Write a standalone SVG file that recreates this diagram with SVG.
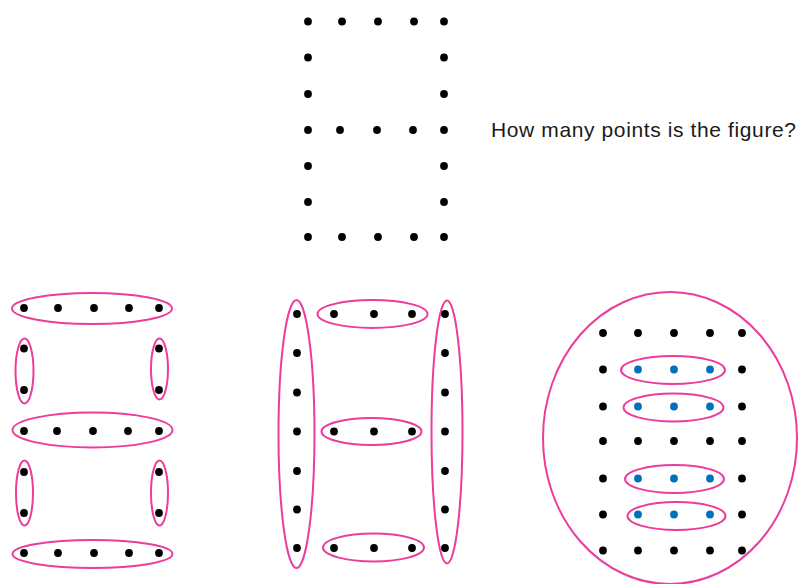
<svg xmlns="http://www.w3.org/2000/svg" width="799" height="584" viewBox="0 0 799 584">
<defs>
<style>
.d{fill:#000}
.b{fill:#0070C0}
.e{fill:none;stroke:#EC3C9C;stroke-width:2}
.t{font-family:"Liberation Sans",Arial,sans-serif;font-size:21px;fill:#1a1a1a}
</style>
<circle id="k" r="3.9" class="d"/>
<circle id="u" r="3.9" class="b"/>
</defs>
<rect width="799" height="584" fill="#fff"/>

<g id="top-figure">
<use href="#k" x="308" y="21.5"/><use href="#k" x="342" y="21.5"/><use href="#k" x="378" y="21.5"/><use href="#k" x="414" y="21.5"/><use href="#k" x="444" y="21.5"/>
<use href="#k" x="308" y="57.5"/><use href="#k" x="444" y="57.5"/>
<use href="#k" x="308" y="94"/><use href="#k" x="444" y="94"/>
<use href="#k" x="308" y="130"/><use href="#k" x="340" y="130"/><use href="#k" x="377" y="130"/><use href="#k" x="413" y="130"/><use href="#k" x="444" y="130"/>
<use href="#k" x="308" y="166"/><use href="#k" x="444" y="166"/>
<use href="#k" x="308" y="202"/><use href="#k" x="444" y="202"/>
<use href="#k" x="308" y="237"/><use href="#k" x="342" y="237"/><use href="#k" x="378" y="237"/><use href="#k" x="414" y="237"/><use href="#k" x="444" y="237"/>
</g>

<g id="question">
<text class="t" x="491" y="137" textLength="305" lengthAdjust="spacing">How many points is the figure?</text>
</g>

<g id="left-figure">
<ellipse class="e" cx="92" cy="308.5" rx="80" ry="15.5"/>
<ellipse class="e" cx="24.5" cy="371" rx="9" ry="32.5"/>
<ellipse class="e" cx="159.5" cy="369" rx="8.5" ry="30.5"/>
<ellipse class="e" cx="92.5" cy="430" rx="80" ry="17.5"/>
<ellipse class="e" cx="24.5" cy="493" rx="8.5" ry="32.5"/>
<ellipse class="e" cx="159.5" cy="493" rx="8.5" ry="32.5"/>
<ellipse class="e" cx="92.5" cy="554" rx="80" ry="14"/>
<use href="#k" x="24" y="308"/><use href="#k" x="58" y="308"/><use href="#k" x="94" y="308"/><use href="#k" x="129" y="308"/><use href="#k" x="159" y="308"/>
<use href="#k" x="24" y="348.5"/><use href="#k" x="159" y="348.5"/>
<use href="#k" x="24" y="390"/><use href="#k" x="159" y="390"/>
<use href="#k" x="24" y="431"/><use href="#k" x="57" y="431"/><use href="#k" x="93" y="431"/><use href="#k" x="128" y="431"/><use href="#k" x="159" y="431"/>
<use href="#k" x="24" y="472"/><use href="#k" x="159" y="472"/>
<use href="#k" x="24" y="513"/><use href="#k" x="159" y="513"/>
<use href="#k" x="24" y="553"/><use href="#k" x="58" y="553"/><use href="#k" x="94" y="553"/><use href="#k" x="129" y="553"/><use href="#k" x="159" y="553"/>
</g>

<g id="middle-figure">
<ellipse class="e" cx="296.5" cy="434" rx="18" ry="134"/>
<ellipse class="e" cx="447" cy="432" rx="15.5" ry="131.5"/>
<ellipse class="e" cx="372.5" cy="314" rx="55" ry="14"/>
<ellipse class="e" cx="371.5" cy="431.5" rx="50" ry="13.5"/>
<ellipse class="e" cx="373.5" cy="547.5" rx="50.5" ry="14"/>
<use href="#k" x="297" y="314"/><use href="#k" x="297" y="353"/><use href="#k" x="297" y="392.5"/><use href="#k" x="297" y="431.5"/><use href="#k" x="297" y="471"/><use href="#k" x="297" y="509.5"/><use href="#k" x="297" y="548"/>
<use href="#k" x="445" y="314"/><use href="#k" x="445" y="353"/><use href="#k" x="445" y="392.5"/><use href="#k" x="445" y="431.5"/><use href="#k" x="445" y="471"/><use href="#k" x="445" y="509.5"/><use href="#k" x="445" y="548"/>
<use href="#k" x="334" y="314"/><use href="#k" x="374" y="314"/><use href="#k" x="412" y="314"/>
<use href="#k" x="334" y="431.5"/><use href="#k" x="374" y="431.5"/><use href="#k" x="412" y="431.5"/>
<use href="#k" x="334" y="548"/><use href="#k" x="374" y="548"/><use href="#k" x="412" y="548"/>
</g>

<g id="right-figure">
<ellipse class="e" cx="670" cy="438" rx="127" ry="146"/>
<ellipse class="e" cx="673" cy="370" rx="52" ry="14"/>
<ellipse class="e" cx="673.5" cy="407.5" rx="50" ry="14"/>
<ellipse class="e" cx="674.5" cy="479" rx="49.5" ry="14"/>
<ellipse class="e" cx="676.5" cy="516" rx="49" ry="14"/>
<use href="#k" x="603" y="333"/><use href="#k" x="638" y="333"/><use href="#k" x="674" y="333"/><use href="#k" x="710" y="333"/><use href="#k" x="742" y="333"/>
<use href="#k" x="603" y="369.5"/><use href="#u" x="638" y="369.5"/><use href="#u" x="674" y="369.5"/><use href="#u" x="710" y="369.5"/><use href="#k" x="742" y="369.5"/>
<use href="#k" x="603" y="406.5"/><use href="#u" x="638" y="406.5"/><use href="#u" x="674" y="406.5"/><use href="#u" x="710" y="406.5"/><use href="#k" x="742" y="406.5"/>
<use href="#k" x="603" y="441"/><use href="#k" x="638" y="441"/><use href="#k" x="674" y="441"/><use href="#k" x="710" y="441"/><use href="#k" x="742" y="441"/>
<use href="#k" x="603" y="478.5"/><use href="#u" x="638" y="478.5"/><use href="#u" x="674" y="478.5"/><use href="#u" x="710" y="478.5"/><use href="#k" x="742" y="478.5"/>
<use href="#k" x="603" y="514.5"/><use href="#u" x="638" y="514.5"/><use href="#u" x="674" y="514.5"/><use href="#u" x="710" y="514.5"/><use href="#k" x="742" y="514.5"/>
<use href="#k" x="603" y="550.5"/><use href="#k" x="638" y="550.5"/><use href="#k" x="674" y="550.5"/><use href="#k" x="710" y="550.5"/><use href="#k" x="742" y="550.5"/>
</g>
</svg>
